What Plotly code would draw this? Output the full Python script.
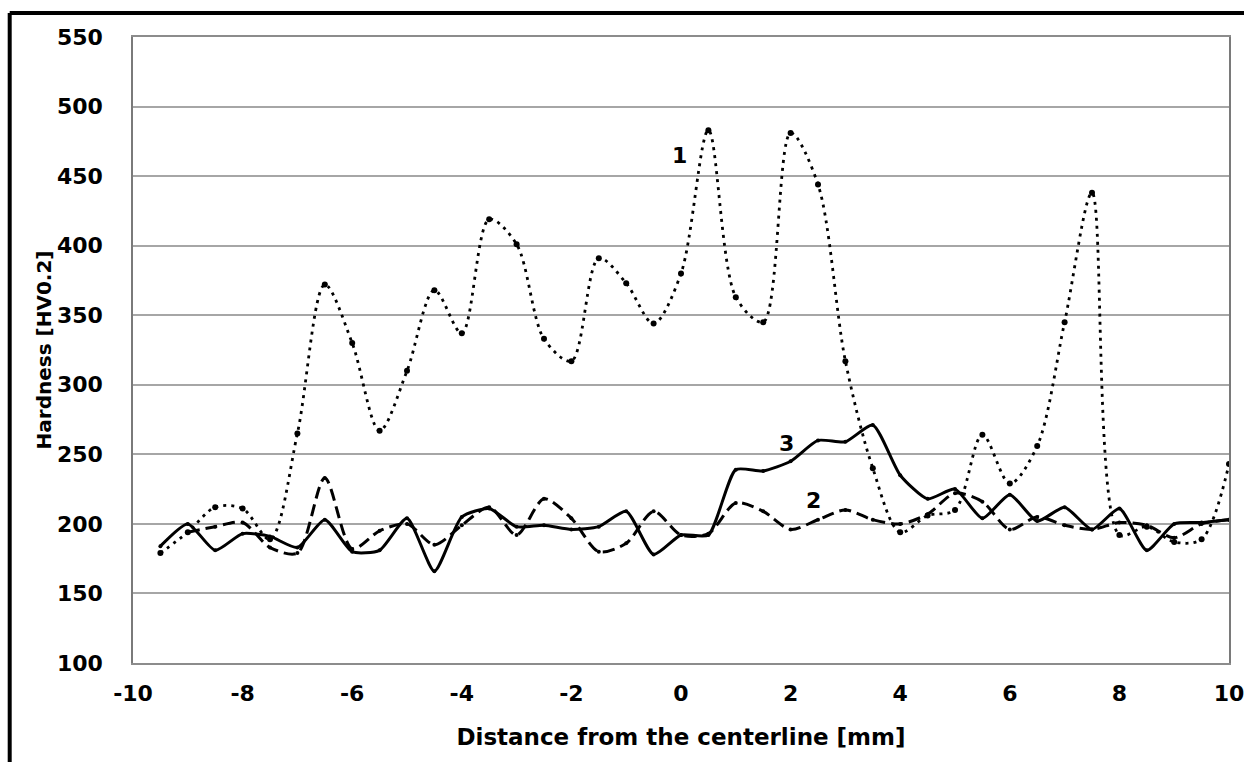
import plotly.graph_objects as go

# Distance from the centerline [mm]
x1 = [-9.5, -9, -8.5, -8, -7.5, -7, -6.5, -6, -5.5, -5, -4.5, -4, -3.5, -3, -2.5, -2, -1.5, -1, -0.5, 0,
      0.5, 1, 1.5, 2, 2.5, 3, 3.5, 4, 4.5, 5, 5.5, 6, 6.5, 7, 7.5, 8, 8.5, 9, 9.5, 10]
# Series 1 (dotted)
hv1 = [179, 194, 212, 211, 189, 265, 372, 330, 267, 310, 368, 337, 419, 401, 333, 317, 391, 373, 344, 380,
       483, 363, 345, 481, 444, 317, 240, 194, 206, 210, 264, 229, 256, 345, 438, 192, 198, 187, 189, 243]

# Series 2 (dashed)
x2 = [-9, -8.5, -8, -7.5, -7, -6.5, -6, -5.5, -5, -4.5, -4, -3.5, -3, -2.5, -2, -1.5, -1, -0.5, 0,
      0.5, 1, 1.5, 2, 2.5, 3, 3.5, 4, 4.5, 5, 5.5, 6, 6.5, 7, 7.5, 8, 8.5, 9, 9.5, 10]
hv2 = [194, 198, 201, 183, 179, 233, 182, 195, 200, 185, 199, 212, 192, 218, 204, 180, 186, 209, 192,
       193, 215, 209, 196, 203, 210, 203, 200, 207, 222, 216, 196, 205, 199, 196, 201, 199, 190, 200, 203]

# Series 3 (solid)
x3 = x1
hv3 = [184, 200, 181, 193, 191, 183, 203, 180, 181, 204, 166, 205, 211, 198, 199, 196, 198, 209, 178, 192,
       192, 239, 238, 245, 260, 259, 271, 235, 218, 225, 204, 221, 202, 212, 196, 211, 181, 200, 201, 203]

labels = ["1", "2", "3"]
label_x = [-0.02, 2.41, 1.92]
label_y = [465, 217, 258]

x_ticks = [-10, -8, -6, -4, -2, 0, 2, 4, 6, 8, 10]
x_tick_text = ["-10", "-8", "-6", "-4", "-2", "0", "2", "4", "6", "8", "10"]
y_ticks = [100, 150, 200, 250, 300, 350, 400, 450, 500, 550]

FONT = "DejaVu Sans"

fig = go.Figure()
fig.add_trace(go.Scatter(x=x1, y=hv1, mode="lines+markers",
                         line=dict(color="black", width=2.8, dash="3px,5px", shape="spline", smoothing=0.9),
                         marker=dict(color="black", size=6), name="1"))
fig.add_trace(go.Scatter(x=x2, y=hv2, mode="lines+markers",
                         line=dict(color="black", width=3, dash="12px,6px", shape="spline", smoothing=0.8),
                         marker=dict(color="black", size=4), name="2"))
fig.add_trace(go.Scatter(x=x3, y=hv3, mode="lines+markers",
                         line=dict(color="black", width=3, shape="spline", smoothing=0.6),
                         marker=dict(color="black", size=4), name="3"))

for t, lx, ly in zip(labels, label_x, label_y):
    fig.add_annotation(x=lx, y=ly, text=t, showarrow=False,
                       font=dict(family=FONT, size=22, color="black", weight="bold"))

# outer frame (left and top edges)
fig.add_shape(type="line", xref="paper", yref="paper", x0=-0.1125, x1=-0.1125, y0=-0.2, y1=1.0385,
              line=dict(color="black", width=4))
fig.add_shape(type="line", xref="paper", yref="paper", x0=-0.1125, x1=1.05, y0=1.0385, y1=1.0385,
              line=dict(color="black", width=4))

fig.update_layout(
    width=1244, height=762,
    margin=dict(l=133, r=15, t=37, b=99),
    paper_bgcolor="white", plot_bgcolor="white",
    showlegend=False,
    font=dict(family=FONT, size=22, color="black"),
)
fig.update_xaxes(range=[-10, 10], tickvals=x_ticks, ticktext=x_tick_text, showgrid=False, zeroline=False,
                 showline=True, linecolor="#8c8c8c", linewidth=1.5, mirror=True,
                 ticks="", ticklabelstandoff=10, ticklabeloverflow="allow", automargin=False,
                 tickfont=dict(family=FONT, size=22, color="black", weight="bold"),
                 title=dict(text="Distance from the centerline [mm]", standoff=24,
                            font=dict(family=FONT, size=23, color="black", weight="bold")))
fig.update_yaxes(range=[100, 550], tickvals=y_ticks, showgrid=True, gridcolor="#a6a6a6", gridwidth=1.5,
                 zeroline=False, showline=True, linecolor="#7a7a7a", linewidth=1.5, mirror=True,
                 ticks="", ticklabelstandoff=24, automargin=False,
                 tickfont=dict(family=FONT, size=22, color="black", weight="bold"),
                 title=dict(text="Hardness [HV0.2]", standoff=0,
                            font=dict(family=FONT, size=20, color="black", weight="bold")))

fig.write_html("out.html")
